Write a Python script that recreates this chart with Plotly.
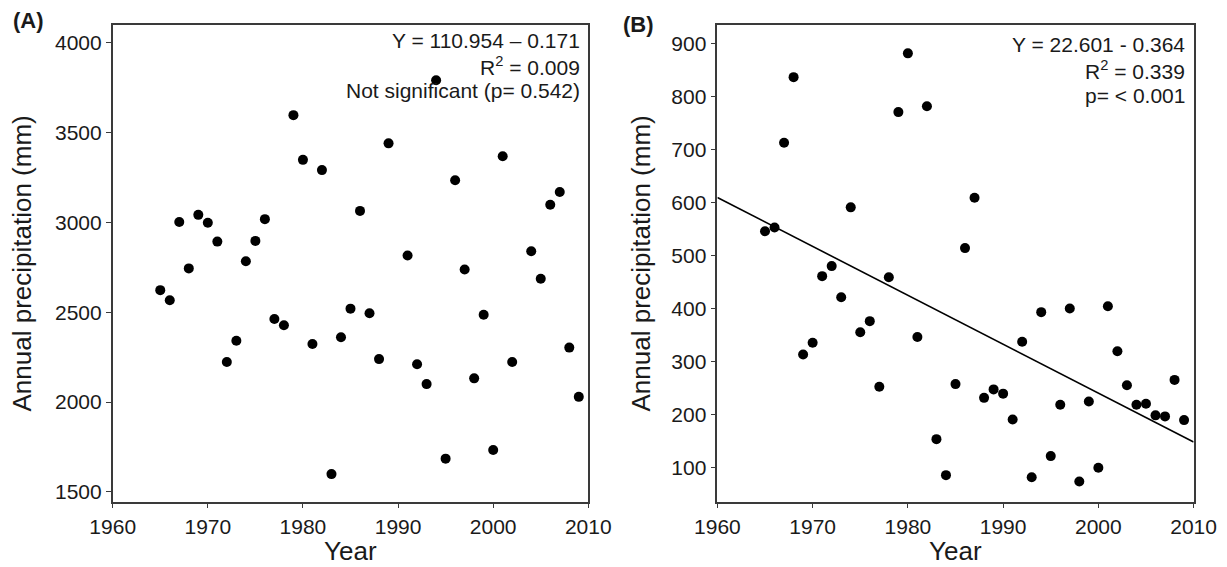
import numpy as np
import plotly.graph_objects as go

# ---------------- data ----------------
years_a = [1965, 1966, 1967, 1968, 1969, 1970, 1971, 1972, 1973, 1974, 1975, 1976,
           1977, 1978, 1979, 1980, 1981, 1982, 1983, 1984, 1985, 1986, 1987, 1988,
           1989, 1991, 1992, 1993, 1994, 1995, 1996, 1997, 1998, 1999, 2000, 2001,
           2002, 2004, 2005, 2006, 2007, 2008, 2009]
precip_a = [2623, 2567, 3002, 2744, 3042, 2998, 2893, 2223, 2341, 2784, 2897, 3018,
            2462, 2428, 3597, 3348, 2323, 3291, 1599, 2361, 2520, 3064, 2494, 2239,
            3440, 2816, 2210, 2100, 3791, 1685, 3235, 2738, 2132, 2486, 1733, 3368,
            2223, 2839, 2686, 3098, 3169, 2303, 2029]

years_b = list(range(1965, 2010))
precip_b = [546, 553, 713, 837, 313, 335, 461, 480, 421, 591, 355, 376,
            252, 459, 771, 882, 346, 782, 153, 85, 257, 514, 609, 231,
            247, 239, 190, 337, 81, 393, 121, 218, 400, 73, 224, 99,
            404, 319, 255, 218, 220, 198, 196, 265, 189]

x_range = [1960, 2010]
x_ticks = [1960, 1970, 1980, 1990, 2000, 2010]
ya_range = [1446, 4097]
ya_ticks = [1500, 2000, 2500, 3000, 3500, 4000]
yb_range = [35, 935]
yb_ticks = [100, 200, 300, 400, 500, 600, 700, 800, 900]

stats_a = ["Y = 110.954 \u2013 0.171", "R<sup>2</sup> = 0.009", "Not significant (p= 0.542)"]
stats_b = ["Y = 22.601 - 0.364", "R<sup>2</sup> = 0.339", "p= < 0.001"]

# linear fit for panel B (drawn across the full x range)
slope_b, icpt_b = np.polyfit(years_b, precip_b, 1)
fit_x = np.array(x_range, dtype=float)
fit_y = icpt_b + slope_b * fit_x

# ---------------- figure ----------------
W, H = 1227, 567
FONT = "Liberation Sans, Arial, sans-serif"
TXT = "#1a1a1a"
AX = "#3a3a3a"

fig = go.Figure()
fig.add_trace(go.Scatter(x=years_a, y=precip_a, mode="markers", xaxis="x", yaxis="y",
                         marker=dict(size=10, color="black"), showlegend=False))
fig.add_trace(go.Scatter(x=years_b, y=precip_b, mode="markers", xaxis="x2", yaxis="y2",
                         marker=dict(size=10, color="black"), showlegend=False))
fig.add_trace(go.Scatter(x=fit_x, y=fit_y, mode="lines", xaxis="x2", yaxis="y2",
                         line=dict(color="black", width=1.6), showlegend=False))

def px_x(p):
    return p / W

def px_y(p):
    return 1 - p / H

axis_common = dict(showgrid=False, zeroline=False, showline=True, linecolor=AX, linewidth=1.6,
                   mirror=True, ticks="outside", ticklen=5, tickwidth=1.4, tickcolor=AX,
                   automargin=False,
                   tickfont=dict(family=FONT, size=21, color=TXT))

ydom = [px_y(501.6), px_y(25.3)]
fig.update_layout(
    template="none",
    width=W, height=H,
    margin=dict(l=0, r=0, t=0, b=0, pad=0),
    paper_bgcolor="white", plot_bgcolor="white",
    xaxis=dict(domain=[px_x(112.7), px_x(588.3)], range=x_range, tickvals=x_ticks,
               anchor="y", **axis_common),
    yaxis=dict(domain=ydom, range=ya_range, tickvals=ya_ticks, anchor="x", **axis_common),
    xaxis2=dict(domain=[px_x(717.4), px_x(1193.6)], range=x_range, tickvals=x_ticks,
                anchor="y2", **axis_common),
    yaxis2=dict(domain=ydom, range=yb_range, tickvals=yb_ticks, anchor="x2", **axis_common),
)

ann = []
# panel letters
ann.append(dict(text="<b>(A)</b>", x=px_x(11), y=px_y(21), xref="paper", yref="paper",
                xanchor="left", yanchor="middle", showarrow=False,
                font=dict(family=FONT, size=22, color=TXT)))
ann.append(dict(text="<b>(B)</b>", x=px_x(621), y=px_y(25), xref="paper", yref="paper",
                xanchor="left", yanchor="middle", showarrow=False,
                font=dict(family=FONT, size=22, color=TXT)))
# axis titles
for cx in (350.5, 955.5):
    ann.append(dict(text="Year", x=px_x(cx), y=px_y(551), xref="paper", yref="paper",
                    xanchor="center", yanchor="middle", showarrow=False,
                    font=dict(family=FONT, size=26, color=TXT)))
for cx in (21, 640):
    ann.append(dict(text="Annual precipitation (mm)", x=px_x(cx), y=px_y(263.5),
                    xref="paper", yref="paper", xanchor="center", yanchor="middle",
                    textangle=-90, showarrow=False,
                    font=dict(family=FONT, size=26, color=TXT)))
# statistics text
for i, line in enumerate(stats_a):
    ann.append(dict(text=line, x=px_x(582), y=px_y(40.5 + 25 * i), xref="paper", yref="paper",
                    xanchor="right", yanchor="middle", showarrow=False,
                    font=dict(family=FONT, size=21, color=TXT)))
for i, line in enumerate(stats_b):
    ann.append(dict(text=line, x=px_x(1187), y=px_y(44 + 25.5 * i), xref="paper", yref="paper",
                    xanchor="right", yanchor="middle", showarrow=False,
                    font=dict(family=FONT, size=21, color=TXT)))
fig.update_layout(annotations=ann)

# remove the page's default 8px body margin so the figure sits at the window origin
fig.write_html("out.html",
               config={"displayModeBar": False},
               post_script="document.body.style.margin='0';document.body.style.overflow='hidden';")
